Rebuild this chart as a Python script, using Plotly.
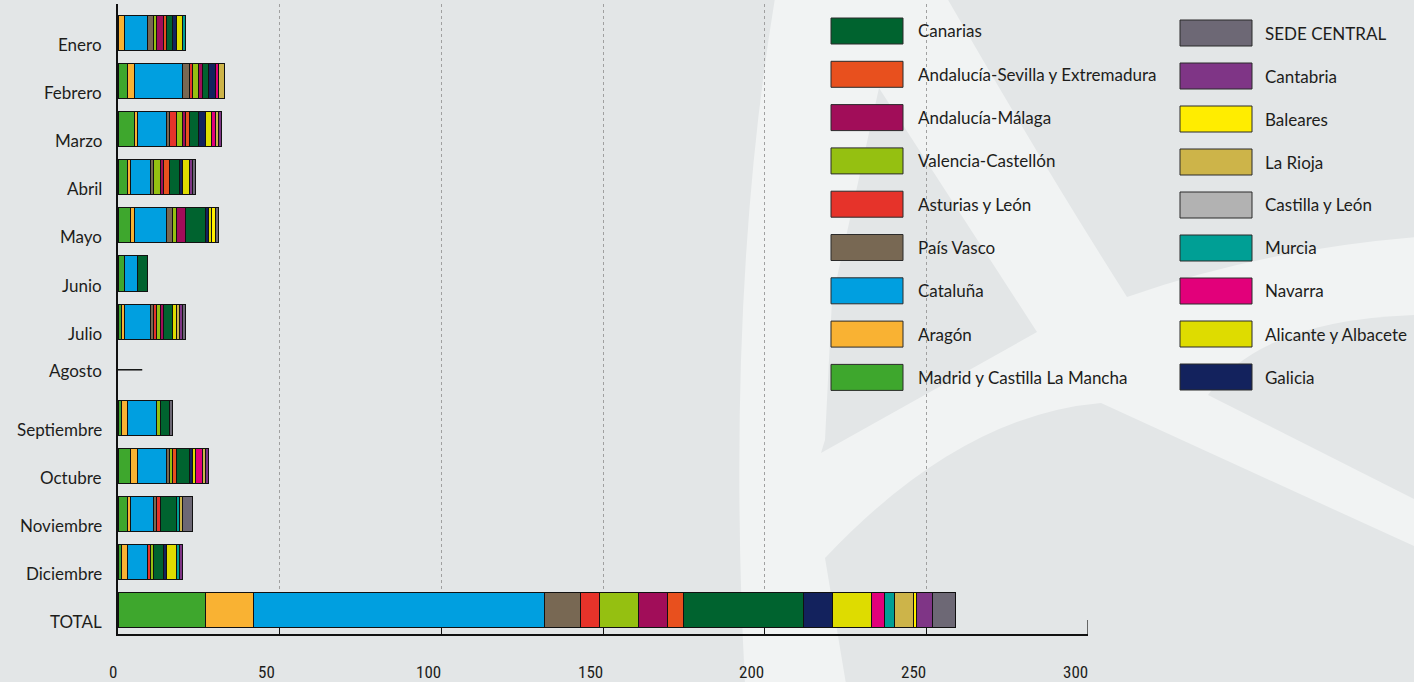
import plotly.graph_objects as go

# ---------------- DATA ----------------
categories = ["Enero", "Febrero", "Marzo", "Abril", "Mayo", "Junio", "Julio",
              "Agosto", "Septiembre", "Octubre", "Noviembre", "Diciembre", "TOTAL"]

series_names = ["Madrid y Castilla La Mancha", "Aragón", "Cataluña", "País Vasco",
                "Asturias y León", "Valencia-Castellón", "Andalucía-Málaga",
                "Andalucía-Sevilla y Extremadura", "Canarias", "Galicia",
                "Alicante y Albacete", "Navarra", "Murcia", "La Rioja", "Baleares",
                "Castilla y León", "Cantabria", "SEDE CENTRAL"]

madrid    = [0, 3, 5, 3, 4, 2, 1, 0, 1, 4, 3, 1, 27]
aragon    = [2, 2, 1, 1, 1, 0, 1, 0, 2, 2, 1, 2, 15]
cataluna  = [7, 15, 9, 6, 10, 4, 8, 0, 9, 9, 7, 6, 90]
pais_vasco = [2, 2, 1, 1, 2, 0, 1, 0, 0, 1, 1, 0, 11]
asturias  = [0, 1, 2, 0, 0, 0, 1, 0, 0, 0, 1, 1, 6]
valencia  = [1, 2, 2, 2, 1, 0, 1, 0, 1, 1, 0, 1, 12]
malaga    = [2, 1, 1, 1, 3, 0, 1, 0, 0, 0, 0, 0, 9]
sevilla   = [1, 0, 1, 2, 0, 0, 0, 0, 0, 1, 0, 0, 5]
canarias  = [2, 2, 3, 3, 6, 3, 3, 0, 3, 4, 5, 3, 37]
galicia   = [1, 2, 2, 1, 1, 0, 0, 0, 0, 1, 0, 1, 9]
alicante  = [2, 0, 2, 2, 1, 0, 1, 0, 0, 1, 0, 3, 12]
navarra   = [0, 1, 1, 0, 0, 0, 0, 0, 0, 2, 0, 0, 4]
murcia    = [1, 0, 0, 0, 0, 0, 0, 0, 0, 0, 1, 1, 3]
la_rioja  = [0, 2, 1, 0, 0, 0, 1, 0, 0, 1, 1, 0, 6]
baleares  = [0, 0, 0, 0, 1, 0, 0, 0, 0, 0, 0, 0, 1]
castilla_leon = [0, 0, 0, 0, 0, 0, 0, 0, 0, 0, 0, 0, 0]
cantabria = [0, 0, 1, 1, 0, 0, 1, 0, 0, 1, 0, 1, 5]
sede      = [0, 0, 0, 1, 1, 0, 1, 0, 1, 0, 3, 0, 7]

agosto_line = [0, 7.5]   # the short rule drawn for August

x_ticks = [0, 50, 100, 150, 200, 250, 300]

series_values = [madrid, aragon, cataluna, pais_vasco, asturias, valencia, malaga,
                 sevilla, canarias, galicia, alicante, navarra, murcia, la_rioja,
                 baleares, castilla_leon, cantabria, sede]

colors = {
    "Madrid y Castilla La Mancha": "#3ea72d",
    "Aragón": "#f9b233",
    "Cataluña": "#009fe0",
    "País Vasco": "#786853",
    "Asturias y León": "#e6332a",
    "Valencia-Castellón": "#95c011",
    "Andalucía-Málaga": "#a10d59",
    "Andalucía-Sevilla y Extremadura": "#e8501e",
    "Canarias": "#00632f",
    "Galicia": "#13225d",
    "Alicante y Albacete": "#dedc00",
    "Navarra": "#e2007a",
    "Murcia": "#009f95",
    "La Rioja": "#cdb449",
    "Baleares": "#ffed00",
    "Castilla y León": "#b2b2b2",
    "Cantabria": "#7f3586",
    "SEDE CENTRAL": "#6d6875",
}

legend_col1 = ["Canarias", "Andalucía-Sevilla y Extremadura", "Andalucía-Málaga",
               "Valencia-Castellón", "Asturias y León", "País Vasco", "Cataluña",
               "Aragón", "Madrid y Castilla La Mancha"]
legend_col2 = ["SEDE CENTRAL", "Cantabria", "Baleares", "La Rioja", "Castilla y León",
               "Murcia", "Navarra", "Alicante y Albacete", "Galicia"]

# ---------------- LAYOUT GEOMETRY ----------------
W, H = 1414, 682
L, R, T, B = 118, 1088, 4, 634


def px(x):
    return (x - L) / (R - L)


def py(y):
    return 1 - (y - T) / (B - T)


def path(cmds):
    out = []
    for cmd, pts in cmds:
        if cmd == "Q":
            (cx, cy), (x, y) = pts
            out.append(f"Q{px(cx):.5f},{py(cy):.5f} {px(x):.5f},{py(y):.5f}")
        else:
            for (x, y) in pts:
                out.append(f"{cmd}{px(x):.5f},{py(y):.5f}")
                cmd = "L"
    return " ".join(out) + " Z"


TEXT_FONT = "Lato, 'Noto Sans', sans-serif"
NUM_FONT = "'Liberation Sans Narrow', 'Roboto Condensed', 'Arial Narrow', sans-serif"
DARK_BG = "#e3e6e7"
LIGHT_BG = "#f1f3f3"

fig = go.Figure()

ypos = list(range(len(categories)))
for name, vals in zip(series_names, series_values):
    fig.add_trace(go.Bar(
        y=ypos,
        x=[v if v else None for v in vals],
        orientation="h",
        name=name,
        width=0.73,
        marker=dict(color=colors[name], line=dict(color="#111111", width=1)),
        showlegend=False,
        hoverinfo="x+name",
    ))

fig.add_trace(go.Scatter(
    x=agosto_line, y=[categories.index("Agosto")] * 2, mode="lines",
    line=dict(color="#111111", width=1.5), showlegend=False, hoverinfo="skip"))

shapes = []
# background logo (darker regions on a light page)
bg_paths = [
    # left region
    [("M", [(-2, -2), (775, -2)]), ("Q", [(725, 300), (745, 684)]), ("L", [(-2, 684)])],
    # triangle hole of the "A"
    [("M", [(879, 88)]), ("L", [(832, 300), (825, 440), (821, 453), (1037, 332)])],
    # upper right region
    [("M", [(947, -2)]), ("Q", [(1040, 160), (1127, 297)]), ("Q", [(1260, 250), (1416, 237)]),
     ("L", [(1416, -2)])],
    # lower middle region
    [("M", [(846, 684)]), ("L", [(825, 558)]), ("Q", [(960, 415), (1101, 403)]),
     ("L", [(1416, 547), (1416, 684)])],
    # right middle region
    [("M", [(1208, 395)]), ("Q", [(1260, 320), (1416, 315)]), ("L", [(1416, 500)])],
]
for p in bg_paths:
    shapes.append(dict(type="path", xref="paper", yref="paper", path=path(p),
                       fillcolor=DARK_BG, line=dict(width=0), layer="below"))

# longer end tick at 300 on the x axis
shapes.append(dict(type="line", xref="x", yref="paper", x0=300, x1=300,
                   y0=0, y1=py(620), line=dict(color="#111111", width=1.2)))

annotations = []
# legend (two columns of boxes + labels)
for col, (names, box_x, text_x, top0, step) in enumerate([
        (legend_col1, 831, 916, 18, 43.3),
        (legend_col2, 1180, 1263, 20, 43.0)]):
    for i, name in enumerate(names):
        top = top0 + i * step
        shapes.append(dict(type="rect", xref="paper", yref="paper",
                           x0=px(box_x), x1=px(box_x + 72), y0=py(top + 26), y1=py(top),
                           fillcolor=colors[name], line=dict(color="#2b2b2b", width=1),
                           layer="above"))
        annotations.append(dict(xref="paper", yref="paper", x=px(text_x), y=py(top + 13),
                                text=name, showarrow=False, xanchor="left", yanchor="middle",
                                font=dict(family=TEXT_FONT, size=17, color="#1d1d1b")))

# category labels
for i, cat in enumerate(categories):
    annotations.append(dict(xref="x", yref="y", x=0, y=i, text=cat, showarrow=False,
                            xanchor="right", yanchor="middle", xshift=-14,
                            yshift=-1 if cat == "Agosto" else -11.5,
                            font=dict(family=TEXT_FONT, size=17, color="#1d1d1b")))

# x tick labels
for t in x_ticks:
    annotations.append(dict(xref="x", yref="paper", x=t, y=0, text=str(t), showarrow=False,
                            xanchor="center", yanchor="middle", yshift=-38,
                            xshift=-5 if t == 0 else -13,
                            font=dict(family=NUM_FONT, size=17, color="#1d1d1b")))

fig.update_layout(
    width=W, height=H,
    margin=dict(l=L, r=W - R, t=T, b=H - B, pad=0),
    barmode="stack",
    paper_bgcolor=LIGHT_BG,
    plot_bgcolor="rgba(0,0,0,0)",
    shapes=shapes,
    annotations=annotations,
    showlegend=False,
    xaxis=dict(range=[0, 300], tickvals=x_ticks, showticklabels=False,
               ticks="inside", ticklen=6, tickcolor="#111111", tickwidth=1,
               showgrid=True, gridcolor="#a0a0a0", griddash="dot", gridwidth=1,
               showline=True, linecolor="#111111", linewidth=1.5, zeroline=False,
               fixedrange=True),
    yaxis=dict(range=[12.49, -0.6], showticklabels=False, showgrid=False,
               showline=True, linecolor="#111111", linewidth=1.5, zeroline=False,
               ticks="", fixedrange=True),
)

fig.write_html("out.html",
               config={"displayModeBar": False},
               post_script="document.body.style.margin='0';document.body.style.padding='0';"
                           "document.body.style.overflow='hidden';")
